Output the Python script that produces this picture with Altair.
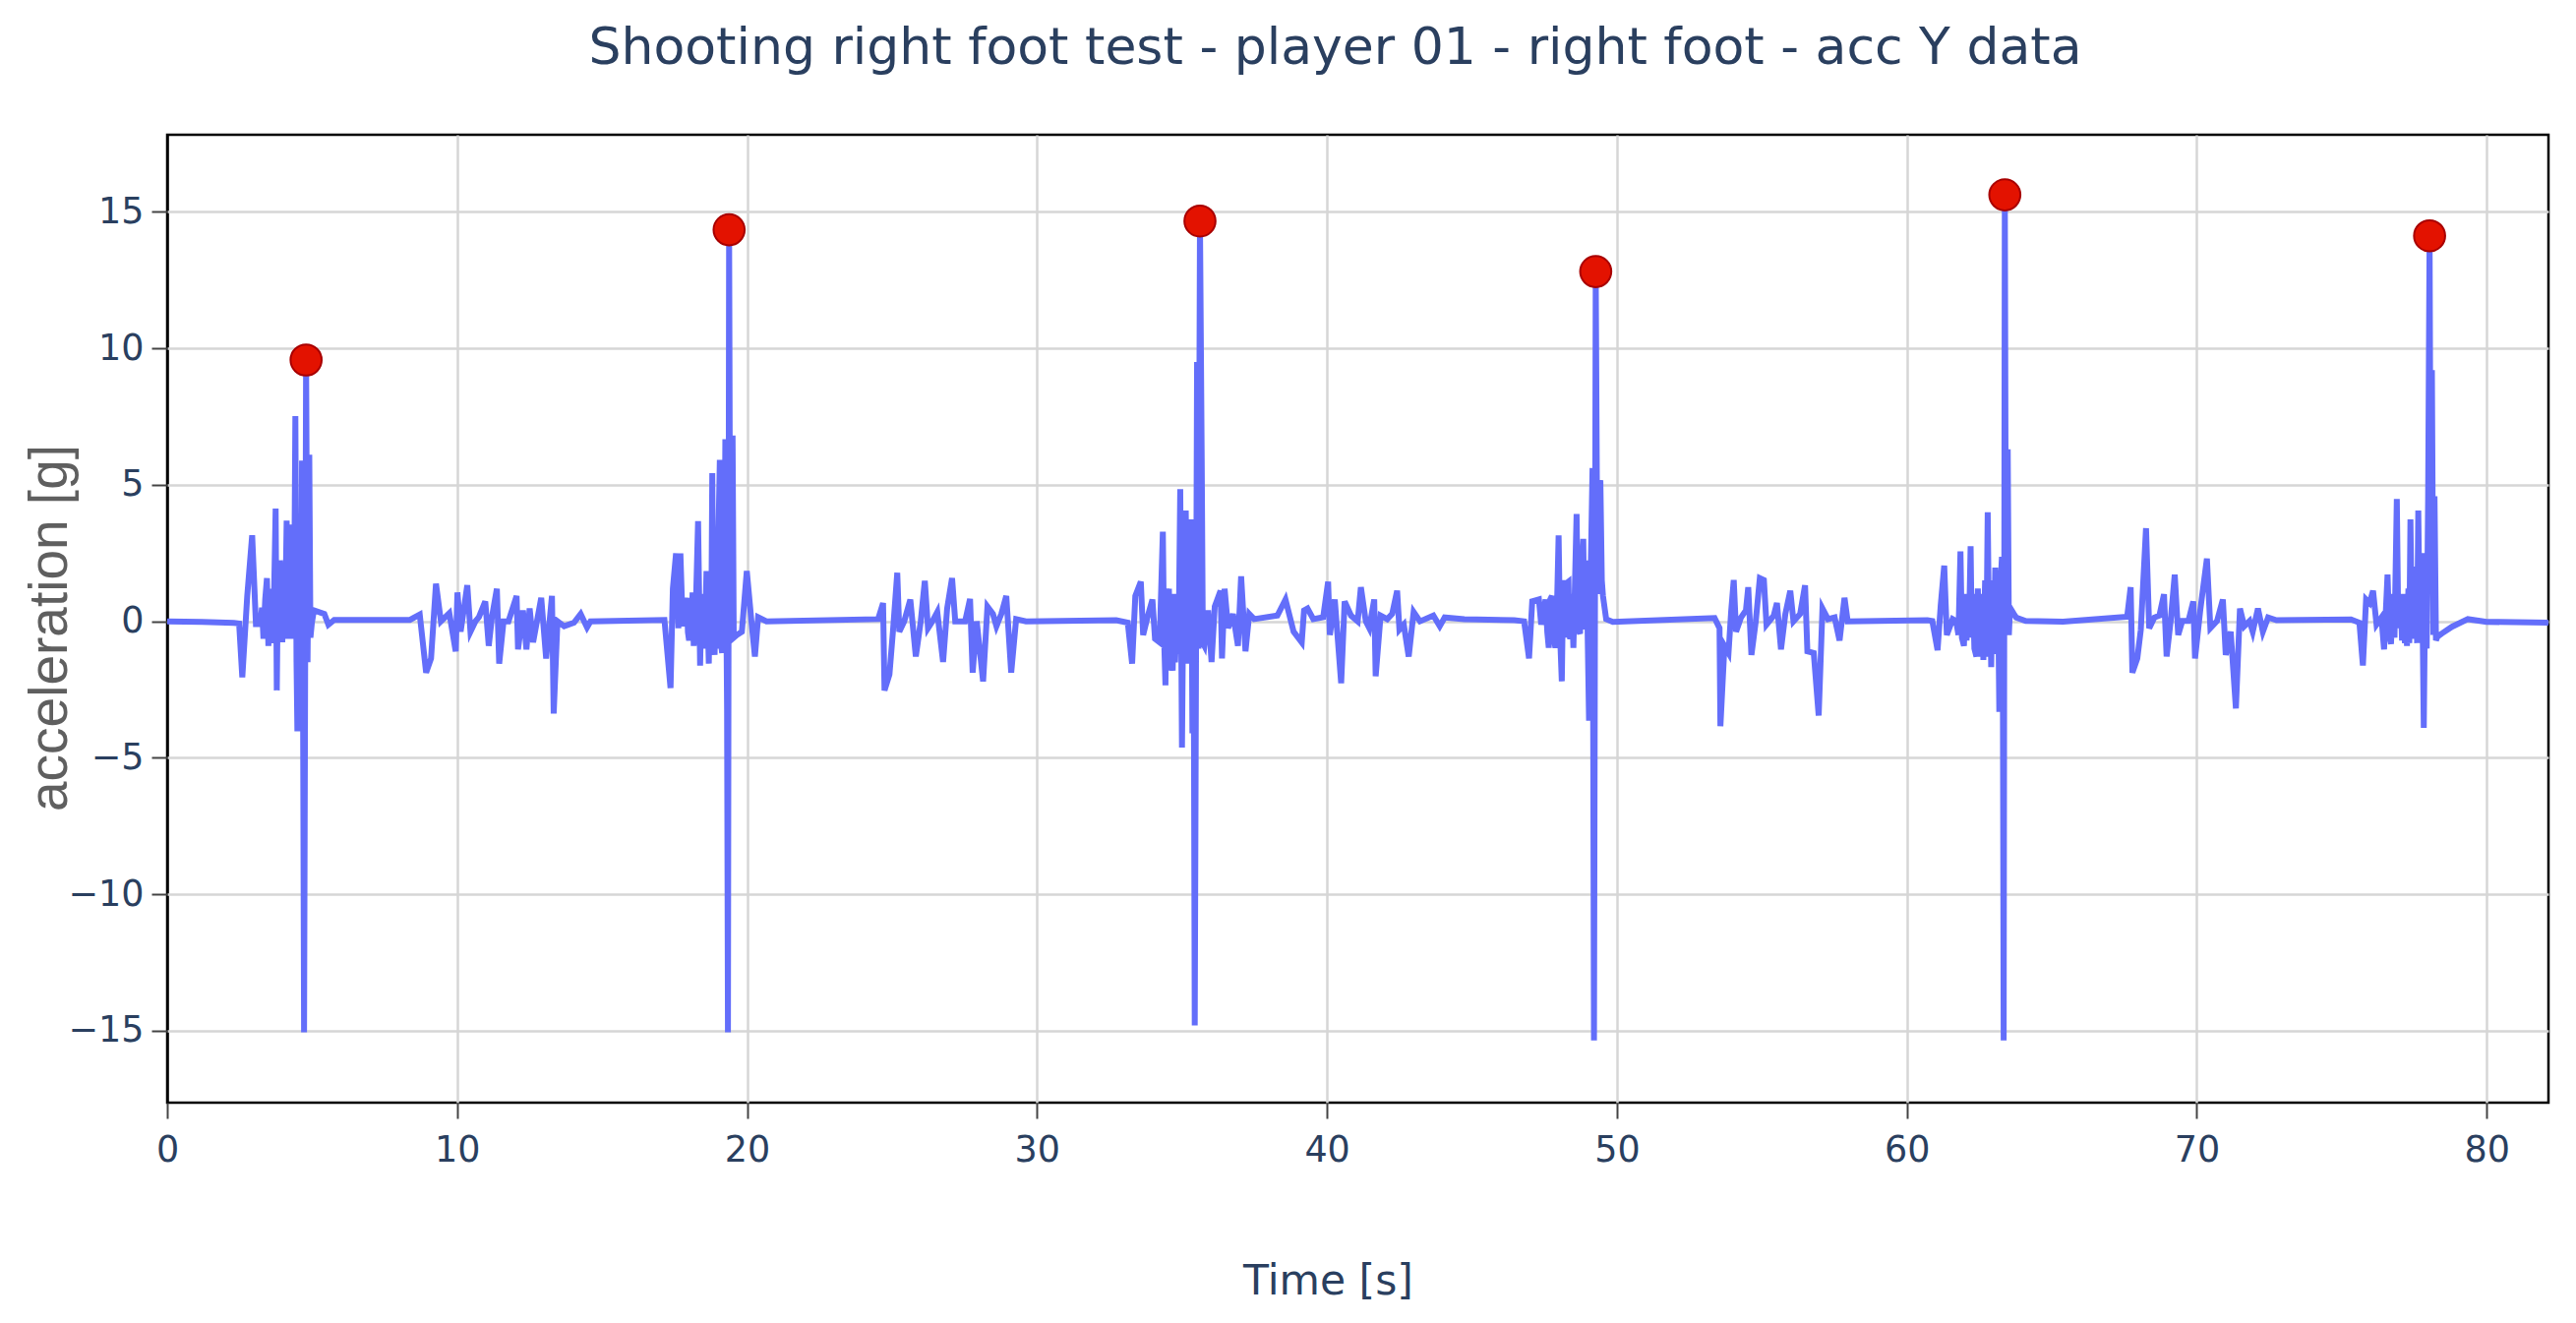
import altair as alt
import pandas as pd

# ---- data (time [s], acceleration [g]) ----
start_t = [0.0, 1.2, 2.3, 2.48]
start_v = [0.0, -0.02, -0.06, -0.08]

shot1_t = [2.59, 2.76, 2.93, 3.06, 3.21, 3.27, 3.32, 3.38, 3.44, 3.49, 3.53, 3.57, 3.61, 3.66,
           3.74, 3.78, 3.82, 3.86, 3.89, 3.93, 3.97, 4.02, 4.06, 4.12, 4.17, 4.21, 4.25, 4.29,
           4.33, 4.37, 4.42, 4.46, 4.49, 4.53, 4.57, 4.61, 4.65, 4.68, 4.72, 4.79, 4.84, 4.9,
           4.94, 4.99, 5.06, 5.42, 5.56, 5.76]
shot1_v = [-2.05, 0.93, 3.15, -0.1, -0.1, 0.5, -0.64, 0.8, 1.58, -0.9, 1.0, -0.8, 1.19, -0.5,
           4.13, -2.53, 1.6, -0.6, 2.23, 1.5, -0.77, 2.0, -0.6, 3.69, -0.64, 2.2, -0.5, 3.54,
           0.2, -0.64, 7.52, -1.5, -4.03, -1.2, 1.71, -2.0, 5.89, -1.0, -15.05, 9.57, -1.5, 6.1,
           -0.6, -0.05, 0.4, 0.27, -0.12, 0.05]

walk1_t = [8.37, 8.71, 8.93, 9.1, 9.27, 9.44, 9.73, 9.95, 10.01, 10.12, 10.35, 10.46, 10.63, 10.75,
           10.97, 11.09, 11.2, 11.37, 11.45, 11.6, 11.77, 12.05, 12.1, 12.27, 12.39, 12.5, 12.62, 12.9,
           13.07, 13.27, 13.33, 13.46, 13.69, 14.03, 14.26, 14.48, 14.6]
walk1_v = [0.05, 0.25, -1.88, -1.36, 1.38, 0.0, 0.3, -1.1, 1.06, -0.38, 1.32, -0.38, 0.0, 0.15,
           0.73, -0.9, 0.15, 1.19, -1.55, 0.0, 0.0, 0.93, -1.03, 0.4, -1.03, 0.47, -0.77, 0.86,
           -1.36, 0.93, -3.38, 0.0, -0.18, -0.05, 0.27, -0.22, 0.0]

shot2_t = [17.15, 17.36, 17.44, 17.55, 17.63, 17.7, 17.78, 17.92, 17.96, 18.0, 18.04, 18.08,
           18.12, 18.16, 18.2, 18.25, 18.31, 18.38, 18.43, 18.46, 18.49, 18.54, 18.6, 18.68,
           18.72, 18.76, 18.8, 18.84, 18.88, 18.93, 18.97, 19.01, 19.06, 19.1, 19.14, 19.18,
           19.21, 19.25, 19.28, 19.31, 19.34, 19.38, 19.42, 19.46, 19.5, 19.54, 19.65, 19.82,
           19.99, 20.15, 20.27, 20.38, 20.67]
shot2_v = [0.05, -2.44, 1.19, 2.49, -0.25, 2.49, -0.18, 0.86, -0.4, -0.7, 0.7, -0.5,
           1.06, -0.9, -0.38, 1.2, 3.67, -1.62, 1.0, -0.8, 0.86, -1.0, 1.84, -1.55,
           1.5, -1.0, 5.43, -0.5, -1.23, 2.5, -1.0, 3.0, 5.91, -0.8, -1.16, 3.0,
           -1.0, 6.67, 1.0, -3.22, -15.05, 14.34, -0.5, 6.0, 6.8, -0.6, -0.5, -0.38,
           1.84, 0.0, -1.29, 0.15, 0.0]

walk2_t = [24.52, 24.69, 24.74, 24.91, 25.03, 25.18, 25.25, 25.42, 25.63, 25.82, 25.99, 26.13,
           26.24, 26.39, 26.56, 26.76, 26.9, 27.07, 27.18, 27.52, 27.69, 27.78, 27.92, 28.14,
           28.29, 28.48, 28.6, 28.77, 28.94, 29.11, 29.28, 29.62]
walk2_v = [0.08, 0.67, -2.53, -1.95, -0.38, 1.78, -0.38, 0.0, 0.8, -1.29, 0.0, 1.48,
           -0.25, 0.0, 0.34, -1.49, 0.47, 1.58, 0.0, 0.0, 0.82, -1.88, 0.0, -2.2,
           0.54, 0.27, -0.18, 0.27, 0.93, -1.88, 0.08, 0.0]

shot3_t = [32.73, 33.13, 33.28, 33.39, 33.58, 33.66, 33.81, 33.98, 34.07, 34.23, 34.34, 34.38,
           34.43, 34.47, 34.51, 34.55, 34.59, 34.63, 34.68, 34.72, 34.76, 34.83, 34.88, 34.94,
           35.0, 35.05, 35.09, 35.13, 35.2, 35.25, 35.28, 35.32, 35.36, 35.4, 35.44, 35.52,
           35.57, 35.62, 35.68, 35.72, 35.77, 35.9, 36.02, 36.13, 36.33, 36.38, 36.47, 36.59,
           36.76, 36.93, 37.04, 37.19, 37.32, 37.49]
shot3_v = [0.04, -0.05, -1.55, 0.93, 1.45, -0.5, 0.15, 0.8, -0.64, -0.77, 3.28, -0.5,
           -2.34, 1.2, -1.5, 1.19, -1.8, 1.0, -1.81, 1.0, -1.5, 0.67, -1.2, 4.84,
           -4.62, 1.5, -1.5, 4.06, -1.55, 2.0, -1.2, 3.73, -4.1, 1.0, -14.8, 9.5,
           -1.0, 14.66, 6.0, -0.8, -0.9, 0.4, -1.49, 0.54, 1.12, -1.36, 1.19, -0.25,
           0.27, -0.9, 1.65, -1.1, 0.27, 0.08]

walk3_t = [38.29, 38.57, 38.85, 39.13, 39.21, 39.33, 39.53, 39.87, 40.04, 40.1, 40.27, 40.49,
           40.61, 40.83, 41.06, 41.17, 41.34, 41.46, 41.63, 41.68, 41.85, 42.08, 42.25, 42.42,
           42.5, 42.65, 42.82, 42.99, 43.21, 43.67, 43.89, 44.06, 44.74]
walk3_v = [0.21, 0.8, -0.38, -0.77, 0.4, 0.47, 0.08, 0.15, 1.45, -0.5, 0.8, -2.27,
           0.73, 0.21, 0.0, 1.25, 0.0, -0.25, 0.8, -2.01, 0.21, 0.08, 0.27, 1.12,
           -0.3, -0.12, -1.29, 0.34, 0.0, 0.21, -0.18, 0.14, 0.08]

shot4_t = [46.46, 46.8, 46.97, 47.08, 47.31, 47.39, 47.54, 47.6, 47.65, 47.7, 47.76, 47.82,
           47.88, 47.94, 47.99, 48.04, 48.1, 48.14, 48.18, 48.22, 48.27, 48.33, 48.36, 48.39,
           48.44, 48.5, 48.55, 48.61, 48.66, 48.73, 48.78, 48.84, 48.88, 48.92, 48.95, 49.0,
           49.04, 49.1, 49.16, 49.21, 49.27, 49.33, 49.38, 49.43, 49.48, 49.52, 49.63, 49.86]
shot4_v = [0.04, 0.0, -1.36, 0.73, 0.8, -0.12, 0.8, -0.4, -0.97, 0.8, 0.93, -0.6,
           -0.97, 0.8, 3.15, -0.5, -2.2, 0.8, 1.51, -0.6, 1.4, 1.45, -0.5, -0.64,
           1.0, -0.97, 1.2, 3.93, -0.3, -0.45, 1.8, 3.02, -0.3, 2.0, 2.23, -1.0,
           -3.64, 2.0, 5.61, -15.35, 12.81, 1.0, 5.0, 5.16, 1.5, 0.93, 0.08, -0.02]

walk4_t = [53.37, 53.54, 53.57, 53.71, 53.85, 53.94, 54.03, 54.11, 54.28, 54.45, 54.53, 54.64,
           54.79, 54.93, 55.07, 55.16, 55.41, 55.52, 55.66, 55.81, 55.98, 56.09, 56.32, 56.49,
           56.57, 56.79, 56.96, 57.09, 57.28, 57.51, 57.68, 57.85, 57.96]
walk4_v = [0.12, -0.25, -3.84, -0.9, -1.16, 0.34, 1.51, -0.38, 0.14, 0.4, 1.25, -1.23,
           0.0, 1.58, 1.51, -0.12, 0.21, 0.67, -1.03, 0.27, 1.12, 0.0, 0.27, 1.32,
           -1.1, -1.16, -3.45, 0.47, 0.08, 0.14, -0.7, 0.86, 0.0]

shot5_t = [60.71, 60.88, 61.06, 61.17, 61.29, 61.38, 61.58, 61.7, 61.78, 61.85, 61.9, 61.97,
           62.02, 62.06, 62.09, 62.14, 62.2, 62.24, 62.28, 62.33, 62.4, 62.45, 62.49, 62.52,
           62.57, 62.6, 62.64, 62.7, 62.74, 62.79, 62.84, 62.87, 62.91, 62.96, 63.0, 63.05,
           63.1, 63.14, 63.19, 63.24, 63.28, 63.31, 63.34, 63.38, 63.42, 63.45, 63.48, 63.52,
           63.56, 63.69, 63.77, 64.1, 65.39]
shot5_v = [0.04, 0.01, -1.06, 0.6, 2.04, -0.5, 0.08, 0.01, -0.5, 2.56, -0.6, -0.9,
           1.0, -0.7, 0.73, -0.5, 2.75, -0.6, 1.0, -1.0, -1.29, 1.2, -1.0, 0.93,
           -1.3, 1.0, -1.42, 1.5, -1.3, 3.99, -1.0, 1.3, -1.68, 1.5, -1.2, 1.97,
           -1.16, 1.8, -3.32, 1.5, 2.36, -1.0, -15.35, 15.62, -0.5, 6.0, 6.3, -0.5,
           0.5, 0.27, 0.14, 0.01, -0.01]

walk5_t = [67.6, 67.72, 67.78, 67.95, 68.07, 68.25, 68.36, 68.54, 68.71, 68.87, 68.96, 69.1,
           69.24, 69.36, 69.5, 69.71, 69.88, 69.94, 70.12, 70.35, 70.47, 70.7, 70.9, 71.0,
           71.17, 71.35, 71.49, 71.64, 71.82, 71.93, 72.11, 72.28, 72.46, 72.75]
walk5_v = [0.17, 1.25, -1.88, -1.36, -0.31, 3.41, -0.25, 0.14, 0.21, 0.99, -1.29, 0.01,
           1.71, -0.5, 0.01, 0.01, 0.73, -1.36, 0.4, 2.3, -0.25, 0.01, 0.8, -1.23,
           -0.38, -3.19, 0.47, -0.18, 0.01, -0.38, 0.47, -0.38, 0.14, 0.04]

shot6_t = [75.32, 75.61, 75.73, 75.84, 75.96, 76.08, 76.2, 76.37, 76.46, 76.58, 76.64, 76.7,
           76.76, 76.82, 76.9, 76.94, 76.98, 77.03, 77.08, 77.13, 77.18, 77.21, 77.25, 77.3,
           77.33, 77.37, 77.42, 77.47, 77.52, 77.57, 77.6, 77.64, 77.68, 77.72, 77.76, 77.8,
           77.83, 77.88, 77.93, 77.98, 78.03, 78.07, 78.11, 78.16, 78.2, 78.25, 78.3, 78.45,
           78.8, 79.35, 80.0, 82.13]
shot6_v = [0.07, -0.05, -1.62, 0.8, 0.67, 1.12, -0.12, 0.14, -1.03, 1.71, -0.5, -0.83,
           1.0, -0.6, 4.48, 0.8, -0.25, 1.0, -0.7, 0.6, -0.8, 1.0, -0.9, 1.2,
           -0.8, 3.73, -0.6, 1.5, -0.64, 2.0, -0.8, 4.06, 0.5, -0.64, 2.5, -1.0,
           -3.9, 1.5, -1.0, 4.5, 14.12, 2.0, 9.2, -0.5, 4.58, -0.7, -0.57, -0.45,
           -0.2, 0.08, -0.02, -0.05]

# detected peaks (red markers)
peak_t = [4.79, 19.38, 35.62, 49.27, 63.38, 78.03]
peak_v = [9.57, 14.34, 14.66, 12.81, 15.62, 14.12]

x_ticks = [0, 10, 20, 30, 40, 50, 60, 70, 80]
y_ticks = [-15, -10, -5, 0, 5, 10, 15]

segments = [(start_t, start_v), (shot1_t, shot1_v), (walk1_t, walk1_v), (shot2_t, shot2_v),
            (walk2_t, walk2_v), (shot3_t, shot3_v), (walk3_t, walk3_v), (shot4_t, shot4_v),
            (walk4_t, walk4_v), (shot5_t, shot5_v), (walk5_t, walk5_v), (shot6_t, shot6_v)]
time, acc = [], []
for ts, vs in segments:
    assert len(ts) == len(vs), (len(ts), len(vs))
    time += ts
    acc += vs

df = pd.DataFrame({"time": time, "acc": acc})
peaks = pd.DataFrame({"time": peak_t, "acc": peak_v})

TICK_COLOR = "#2a3f5f"
GRID = "#d6d6d6"

x_enc = alt.X(
    "time:Q",
    scale=alt.Scale(domain=[0, 82.13], nice=False, zero=False),
    axis=alt.Axis(
        values=x_ticks, format="d", title="Time [s]",
        titleX=1180, titleY=194, titleBaseline="alphabetic", titleAlign="center",
        titleFont="DejaVu Sans", titleFontSize=42.5, titleFontWeight="normal", titleColor=TICK_COLOR,
        labelFont="DejaVu Sans", labelFontSize=36.5, labelColor=TICK_COLOR, labelPadding=14,
        labelFlush=False, labelOverlap=False,
        tickSize=16, tickWidth=2, tickColor="#444444",
        grid=True, gridWidth=2.5, domain=False,
        gridColor=alt.condition("datum.value === 0", alt.value("black"), alt.value(GRID)),
    ),
)
y_enc = alt.Y(
    "acc:Q",
    scale=alt.Scale(domain=[-17.63, 17.82], nice=False, zero=False),
    axis=alt.Axis(
        values=y_ticks, format="d", title="acceleration [g]",
        titleX=-103, titleY=501, titleAngle=270, titleBaseline="alphabetic", titleAlign="center",
        titleFont="Liberation Sans", titleFontSize=55, titleFontWeight="normal", titleColor="#5f5f5f",
        labelFont="DejaVu Sans", labelFontSize=36.5, labelColor=TICK_COLOR, labelPadding=8,
        labelFlush=False, labelOverlap=False,
        tickSize=16, tickWidth=2, tickColor="#444444",
        grid=True, gridColor=GRID, gridWidth=2.5, domain=False,
    ),
)

line = alt.Chart(df).mark_line(color="#636efa", strokeWidth=6, strokeJoin="miter").encode(
    x=x_enc, y=y_enc
)
pts = alt.Chart(peaks).mark_point(
    shape="circle", filled=True, size=1000, fill="#e31200", stroke="#a80000",
    strokeWidth=2, opacity=1,
).encode(x="time:Q", y="acc:Q")

chart = (
    alt.layer(line, pts)
    .properties(
        width=2421,
        height=984,
        title=alt.TitleParams(
            "Shooting right foot test - player 01 - right foot - acc Y data",
            font="DejaVu Sans", fontSize=52, fontWeight="normal", color=TICK_COLOR,
            anchor="middle", dx=-23, baseline="alphabetic", offset=20,
        ),
        autosize=alt.AutoSizeParams(type="none"),
        padding={"left": 162, "top": 129, "right": 10, "bottom": 212},
    )
    .configure_view(stroke="black", strokeWidth=2.5)
)

chart.save("out.html", embed_options={"renderer": "svg", "actions": False})
